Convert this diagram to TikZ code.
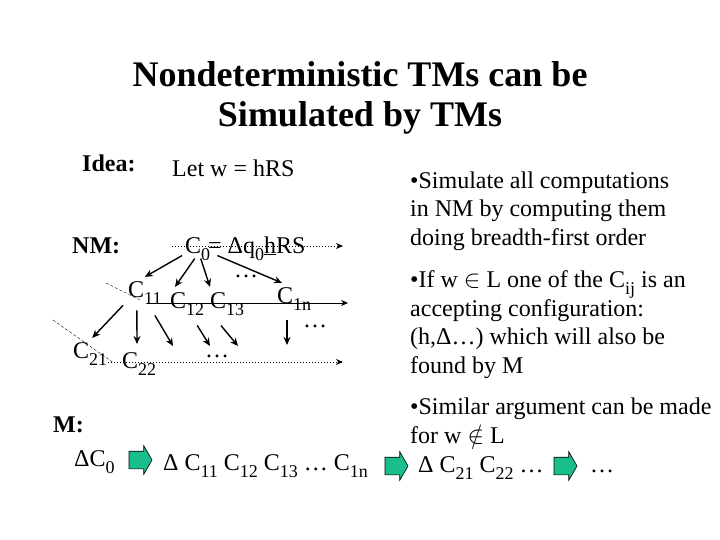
\documentclass[tikz,border=0pt]{standalone}
\usepackage{fontspec}
\setmainfont{Liberation Serif}
\usepackage{tikz}
\usetikzlibrary{arrows.meta,shapes.arrows}
\usepackage{xcolor}
\definecolor{tmgreen}{RGB}{25,190,140}
\newcommand{\lowsub}[1]{\raisebox{-0.3em}{\fontsize{18}{18}\selectfont #1}}

\tikzset{
	txt/.style={inner sep=0pt, anchor=base west, font=\fontsize{24}{28.5}\selectfont},
	hd/.style={txt, font=\fontsize{24}{28.5}\selectfont\bfseries},
	blk/.style={txt, align=left},
	fwd/.style={-{Stealth[length=8pt,width=7pt]}, line width=1.4pt},
	bfs/.style={-{Stealth[length=7pt,width=6pt]}, dotted, line width=1pt},
	lvl/.style={-{Stealth[length=7pt,width=6pt]}, line width=0.6pt},
	cut/.style={densely dashed, line width=0.4pt},
	greenarrow/.style={single arrow, draw=black, fill=tmgreen, line width=0.6pt,
		inner xsep=0pt, inner ysep=8.5pt, minimum height=23pt,
		single arrow head extend=5.5pt, single arrow tip angle=120}
}

\begin{document}
\begin{tikzpicture}[x=1pt,y=-1pt]
				\useasboundingbox (0,0) rectangle (720,540);
				
				\node(title1) at (360,87)[anchor=base, inner sep=0pt, font=\fontsize{36}{40}\selectfont\bfseries]{Nondeterministic TMs can be};
				\node(title2) at (360,127)[anchor=base, inner sep=0pt, font=\fontsize{36}{40}\selectfont\bfseries]{Simulated by TMs};
				
				\node(idea) at (82,172)[hd]{Idea:};
				\node(let) at (172,177)[txt]{Let w = hRS};
				\node(nm) at (72,254)[hd]{NM:};
				
				% computation tree of NM
				\node(C0) at (185,253)[txt]{C\lowsub{0}};
				\node(C0def) at (208,253)[txt]{ = Δq\lowsub{0}\underline{h}RS};
				\node(C11) at (128,297)[txt]{C\lowsub{11}};
				\node(C12) at (170,308)[txt]{C\lowsub{12}};
				\node(C13) at (210,308)[txt]{C\lowsub{13}};
				\node(C1n) at (277,303)[txt]{C\lowsub{1n}};
				\node(C21) at (73,358)[txt]{C\lowsub{21}};
				\node(C22) at (122,368)[txt]{C\lowsub{22}};
				\node(dots1) at (246,276)[txt, anchor=center]{\dots};
				\node(dots2) at (315,326)[txt, anchor=center]{\dots};
				\node(dots3) at (217,356)[txt, anchor=center]{\dots};
				
				\coordinate(lvl0) at (343,246);
				\coordinate(lvl1) at (348,303);
				\coordinate(lvl2) at (343,362);
				\coordinate(cut1) at (106,283);
				\coordinate(cut2) at (53,320);
				\coordinate(n11a) at (137,344);
				\coordinate(n11b) at (173,346);
				\coordinate(n12) at (210,346);
				\coordinate(n13) at (238,346);
				\coordinate(n1n) at (287,345);
				
				\draw[bfs] ([shift={(-13,-7)}]C0.base west) to (lvl0);
				\draw[lvl] ([shift={(2,6)}]C11.base) to (lvl1);
				\draw[bfs] ([shift={(1,4)}]C21.base east) to (lvl2);
				\draw[cut] (cut1) to ([shift={(12,3)}]C11.base west);
				\draw[cut] (cut2) to ([shift={(5,4)}]C21.base east);
				
				\draw[fwd] ([shift={(-3,-5)}]C0.south west) to ([shift={(0,-4)}]C11.north);
				\draw[fwd] ([shift={(-3,-2)}]C0.south) to ([shift={(5,-5)}]C12.north west);
				\draw[fwd] ([shift={(3,-2)}]C0.south) to ([shift={(0,-5)}]C13.north west);
				\draw[fwd] ([shift={(7,-5)}]C0.south east) to ([shift={(5,-4)}]C1n.north west);
				
				\draw[fwd] ([shift={(-5,1)}]C11.south west) to ([shift={(2,-4)}]C21.north);
				\draw[fwd] ([shift={(-8,6)}]C11.south) to (n11a);
				\draw[fwd] ([shift={(10,11)}]C11.south) to (n11b);
				\draw[fwd] ([shift={(10,10)}]C12.south) to (n12);
				\draw[fwd] ([shift={(11,10)}]C13.south west) to (n13);
				\draw[fwd] ([shift={(10,10)}]C1n.south west) to (n1n);
				
				% simulation by M
				\node(m) at (53,432)[hd]{M:};
				\node(mc0) at (74,466)[txt]{ΔC\lowsub{0}};
				\node(ar1)[greenarrow] at (138,460){};
				\node(mc1) at (163,470)[txt]{Δ C\lowsub{11} C\lowsub{12} C\lowsub{13} \dots\ C\lowsub{1n}};
				\node(ar2)[greenarrow] at (394,466){};
				\node(mc2) at (418,472)[txt]{Δ C\lowsub{21} C\lowsub{22} \dots};
				\node(ar3)[greenarrow] at (563,466){};
				\node(mc3) at (590,472)[txt]{\dots};
				
				\node(bul1) at (410,245)[blk]{\textbullet Simulate all computations\\in NM by computing them\\doing breadth-first order};
				\node(bul2) at (410,373)[blk]{\textbullet If w $\in$ L one of the C\lowsub{ij} is an\\accepting configuration:\\(h,Δ\dots) which will also be\\found by M};
				\node(bul3) at (410,443)[blk]{\textbullet Similar argument can be made\\for w $\notin$ L};
			\end{tikzpicture}
\end{document}
